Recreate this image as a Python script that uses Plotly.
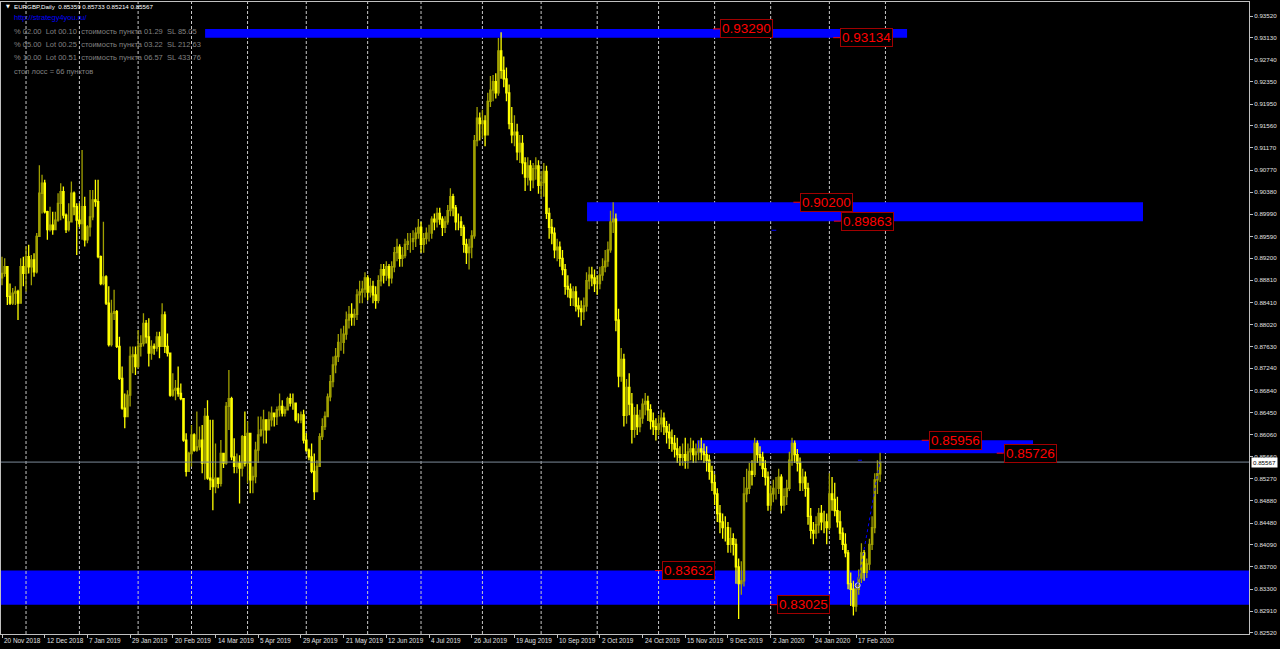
import plotly.graph_objects as go

# EURGBP daily bars, 20 Nov 2018 .. 28 Feb 2020, prices in pips (1e-4)
first_open = 8885
close_pips = [
    8893, 8905, 8852, 8840, 8858, 8861, 8840, 8905, 8893, 8923,
    8905, 8917, 8896, 8959, 9036, 9054, 9003, 8971, 8979, 8971,
    8988, 9018, 9039, 8997, 8971, 8985, 9036, 9012, 8988, 8982,
    9012, 8953, 8976, 8994, 9024, 9021, 8923, 8875, 8887, 8840,
    8766, 8822, 8825, 8763, 8706, 8653, 8638, 8676, 8745, 8748,
    8727, 8763, 8768, 8804, 8780, 8751, 8763, 8760, 8780, 8763,
    8819, 8763, 8751, 8676, 8685, 8688, 8679, 8670, 8596, 8540,
    8572, 8605, 8578, 8584, 8596, 8555, 8638, 8528, 8525, 8513,
    8528, 8519, 8572, 8555, 8656, 8670, 8566, 8549, 8555, 8546,
    8602, 8555, 8608, 8525, 8531, 8578, 8605, 8614, 8632, 8614,
    8632, 8644, 8638, 8650, 8656, 8644, 8650, 8670, 8662, 8662,
    8632, 8632, 8641, 8596, 8578, 8566, 8540, 8504, 8549, 8602,
    8620, 8638, 8673, 8700, 8730, 8745, 8770, 8770, 8785, 8810,
    8820, 8815, 8820, 8855, 8860, 8865, 8885, 8860, 8870, 8855,
    8845, 8880, 8900, 8890, 8905, 8885, 8905, 8930, 8940, 8920,
    8925, 8945, 8950, 8950, 8955, 8965, 8975, 8945, 8955, 8965,
    8965, 8990, 8985, 9000, 8990, 8975, 8985, 9005, 9030, 9010,
    8985, 8985, 8975, 8945, 8930, 8940, 8960, 9130, 9170, 9160,
    9165, 9140, 9200, 9220, 9235, 9215, 9290, 9255, 9240, 9215,
    9160, 9140, 9145, 9110, 9125, 9090, 9065, 9085, 9060, 9080,
    9085, 9050, 9055, 9075, 9000, 8975, 8965, 8935, 8940, 8920,
    8900, 8870, 8865, 8850, 8860, 8835, 8830, 8825, 8835, 8880,
    8890, 8885, 8875, 8875, 8890, 8905, 8915, 8935, 8985, 8990,
    8810, 8710, 8740, 8640, 8690, 8660, 8615, 8640, 8620, 8635,
    8660, 8665, 8650, 8630, 8620, 8615, 8625, 8635, 8620, 8610,
    8600, 8590, 8580, 8570, 8565, 8570, 8560, 8575, 8580, 8570,
    8575, 8580, 8575, 8570, 8560, 8540, 8520, 8500, 8465, 8450,
    8440, 8440, 8410, 8420, 8410, 8370, 8340, 8345, 8500, 8510,
    8540, 8535, 8590, 8570, 8565, 8545, 8530, 8480, 8500, 8510,
    8510, 8530, 8480, 8495, 8510, 8560, 8590, 8570, 8555, 8520,
    8530, 8510, 8460, 8435, 8430, 8445, 8465, 8450, 8450, 8440,
    8500, 8490, 8470, 8450, 8430, 8410, 8395, 8340, 8330, 8300,
    8330, 8350, 8395, 8360, 8375, 8410, 8440, 8525, 8535.9, 8556.7,
]
high_pips = [
    8923, 8920, 8905, 8875, 8867, 8870, 8864, 8920, 8923, 8941,
    8944, 8926, 8929, 8965, 9086, 9069, 9060, 9005, 9012, 9003,
    9003, 9036, 9054, 9048, 9000, 9018, 9057, 9039, 9018, 9018,
    9113, 9030, 8979, 9042, 9042, 9060, 9060, 8925, 8985, 8890,
    8870, 8846, 8864, 8828, 8780, 8727, 8679, 8685, 8763, 8763,
    8763, 8792, 8783, 8822, 8810, 8813, 8774, 8768, 8789, 8789,
    8840, 8825, 8786, 8751, 8715, 8703, 8727, 8697, 8670, 8608,
    8575, 8623, 8608, 8647, 8620, 8623, 8653, 8667, 8632, 8632,
    8590, 8528, 8596, 8572, 8664, 8721, 8673, 8599, 8572, 8569,
    8605, 8647, 8629, 8608, 8549, 8593, 8638, 8638, 8650, 8632,
    8647, 8656, 8644, 8656, 8679, 8667, 8656, 8673, 8679, 8679,
    8662, 8644, 8647, 8650, 8608, 8581, 8590, 8572, 8560, 8608,
    8635, 8647, 8679, 8712, 8745, 8760, 8785, 8795, 8800, 8825,
    8835, 8840, 8830, 8865, 8880, 8880, 8895, 8890, 8885, 8880,
    8870, 8890, 8910, 8910, 8915, 8910, 8915, 8940, 8955, 8945,
    8940, 8955, 8965, 8965, 8970, 8975, 8990, 8985, 8965, 8975,
    8980, 8995, 9000, 9010, 9010, 8995, 8995, 9015, 9045, 9035,
    9015, 9000, 8995, 8980, 8955, 8955, 8970, 9140, 9190, 9180,
    9185, 9175, 9215, 9245, 9247, 9250, 9313, 9323, 9280, 9260,
    9230, 9190, 9175, 9160, 9140, 9140, 9100, 9100, 9095, 9090,
    9100, 9095, 9075, 9090, 9085, 9010, 8990, 8975, 8955, 8950,
    8935, 8910, 8890, 8875, 8870, 8870, 8850, 8845, 8850, 8895,
    8905, 8905, 8900, 8890, 8905, 8920, 8935, 8950, 9005, 9020,
    9000, 8830, 8760, 8750, 8705, 8715, 8680, 8655, 8660, 8650,
    8670, 8680, 8675, 8660, 8645, 8635, 8640, 8650, 8645, 8630,
    8625, 8615, 8605, 8600, 8585, 8590, 8600, 8590, 8600, 8595,
    8590, 8595, 8600, 8590, 8585, 8570, 8550, 8535, 8510, 8480,
    8465, 8460, 8450, 8440, 8430, 8420, 8385, 8380, 8530, 8545,
    8555, 8560, 8600, 8595, 8585, 8575, 8560, 8540, 8515, 8525,
    8530, 8545, 8535, 8510, 8525, 8575, 8600, 8595, 8580, 8565,
    8545, 8540, 8520, 8475, 8450, 8460, 8475, 8480, 8470, 8465,
    8537, 8530, 8520, 8495, 8470, 8440, 8430, 8400, 8360, 8345,
    8340, 8365, 8412, 8400, 8385, 8420, 8460, 8537, 8560, 8573.3,
]
low_pips = [
    8872, 8887, 8837, 8837, 8837, 8837, 8810, 8855, 8870, 8861,
    8893, 8872, 8887, 8893, 8962, 9000, 9000, 8953, 8968, 8962,
    8982, 8985, 8988, 8991, 8965, 8968, 8985, 8997, 8926, 8976,
    8953, 8941, 8947, 8959, 8988, 9012, 8920, 8872, 8872, 8837,
    8763, 8763, 8810, 8760, 8703, 8650, 8617, 8650, 8656, 8715,
    8712, 8724, 8745, 8763, 8768, 8727, 8739, 8748, 8754, 8742,
    8763, 8751, 8745, 8673, 8673, 8667, 8673, 8667, 8593, 8531,
    8540, 8549, 8575, 8575, 8578, 8537, 8525, 8525, 8507, 8471,
    8501, 8510, 8513, 8546, 8552, 8614, 8560, 8537, 8537, 8483,
    8531, 8549, 8519, 8501, 8501, 8519, 8555, 8602, 8590, 8590,
    8614, 8620, 8620, 8623, 8638, 8638, 8638, 8650, 8656, 8650,
    8629, 8626, 8626, 8590, 8575, 8560, 8537, 8489, 8537, 8555,
    8596, 8614, 8638, 8665, 8690, 8715, 8735, 8755, 8750, 8775,
    8795, 8800, 8800, 8810, 8840, 8840, 8850, 8845, 8850, 8840,
    8830, 8840, 8870, 8875, 8880, 8870, 8875, 8895, 8915, 8905,
    8905, 8920, 8935, 8930, 8935, 8940, 8955, 8930, 8930, 8945,
    8950, 8955, 8970, 8975, 8980, 8960, 8965, 8980, 8995, 8995,
    8970, 8970, 8960, 8930, 8910, 8900, 8920, 8955, 9120, 9130,
    9135, 9120, 9140, 9190, 9200, 9205, 9210, 9240, 9225, 9200,
    9150, 9125, 9120, 9095, 9090, 9070, 9040, 9050, 9040, 9045,
    9060, 9035, 9030, 9030, 8990, 8955, 8945, 8920, 8915, 8905,
    8890, 8855, 8850, 8835, 8835, 8825, 8815, 8800, 8810, 8825,
    8865, 8870, 8860, 8855, 8865, 8880, 8895, 8905, 8930, 8965,
    8790, 8690, 8700, 8620, 8625, 8640, 8590, 8600, 8605, 8610,
    8625, 8640, 8630, 8615, 8605, 8595, 8605, 8610, 8605, 8590,
    8580, 8575, 8565, 8555, 8550, 8550, 8545, 8545, 8560, 8555,
    8555, 8560, 8560, 8555, 8540, 8525, 8505, 8480, 8450, 8430,
    8420, 8415, 8395, 8395, 8390, 8340, 8277, 8320, 8335, 8485,
    8500, 8515, 8530, 8555, 8550, 8530, 8515, 8470, 8470, 8485,
    8490, 8500, 8465, 8470, 8480, 8505, 8550, 8555, 8540, 8505,
    8505, 8495, 8445, 8420, 8410, 8420, 8430, 8435, 8430, 8410,
    8435, 8470, 8460, 8440, 8418, 8400, 8387, 8330, 8300, 8283,
    8290, 8320, 8341, 8345, 8350, 8364, 8400, 8430, 8500, 8521.4,
]

# bottom axis labels, one every 16 bars
date_labels = [
    "20 Nov 2018", "12 Dec 2018", "7 Jan 2019", "29 Jan 2019", "20 Feb 2019",
    "14 Mar 2019", "5 Apr 2019", "29 Apr 2019", "21 May 2019", "12 Jun 2019",
    "4 Jul 2019", "26 Jul 2019", "19 Aug 2019", "10 Sep 2019", "2 Oct 2019",
    "24 Oct 2019", "15 Nov 2019", "9 Dec 2019", "2 Jan 2020", "24 Jan 2020",
    "17 Feb 2020",
]
# first bar of every month (vertical grid)
month_start_bars = [9, 29, 51, 71, 92, 114, 137, 157, 180, 202, 223, 246, 267, 288, 310, 331]

price_ticks = [
    0.93520, 0.93130, 0.92740, 0.92350, 0.91950, 0.91560, 0.91170, 0.90770,
    0.90380, 0.89990, 0.89590, 0.89200, 0.88810, 0.88410, 0.88020, 0.87630,
    0.87240, 0.86840, 0.86450, 0.86060, 0.85660, 0.85270, 0.84880, 0.84480,
    0.84090, 0.83700, 0.83300, 0.82910, 0.82520,
]

# blue zones: low, high, first bar, last bar (None = whole width)
zone_low = [0.93134, 0.89863, 0.85726, 0.83025]
zone_high = [0.93290, 0.90200, 0.85956, 0.83632]
zone_from = [76.1, 219.2, 260.4, None]
zone_to = [339.1, 427.5, 386.3, None]

# red price labels and the bar they hang from
label_prices = [0.93290, 0.93134, 0.90200, 0.89863, 0.85956, 0.85726, 0.83632, 0.83025]
label_bars = [266.4, 311.4, 296.5, 311.7, 344.6, 372.7, 244.7, 287.7]

bid = 0.85567
header = "EURGBP,Daily  0.85359 0.85733 0.85214 0.85567"
info_lines = [
    "% 02.00  Lot 00.10  стоимость пункта 01.29  SL 85.05",
    "% 05.00  Lot 00.25  стоимость пункта 03.22  SL 212.63",
    "% 10.00  Lot 00.51  стоимость пункта 06.57  SL 433.76",
    "стоп лосс = 66 пунктов",
]

# trend line and marker drawn near the last bars
trend_bars = [320.6, 329.0]
trend_prices = [0.8337, 0.8560]

# plot area in pixels
PL, PR, PT, PB = 1, 1249, 2, 634


def paper_x(p):
    return (p - PL) / (PR - PL)


def paper_y(p):
    return (PB - p) / (PB - PT)


n = len(close_pips)
bars = list(range(n))
close = [c / 10000 for c in close_pips]
opens = [first_open / 10000] + close[:-1]
high = [max(h / 10000, o, c) for h, o, c in zip(high_pips, opens, close)]
low = [min(l / 10000, o, c) for l, o, c in zip(low_pips, opens, close)]

fig = go.Figure()

fig.add_trace(go.Candlestick(
    x=bars, open=opens, high=high, low=low, close=close,
    increasing=dict(line=dict(color="#a0a000", width=1.3), fillcolor="#a0a000"),
    decreasing=dict(line=dict(color="#ffff00", width=1.3), fillcolor="#ffff00"),
    whiskerwidth=0,
    hoverinfo="skip",
))

fig.add_trace(go.Scatter(
    x=trend_bars[:1], y=trend_prices[:1], mode="markers",
    marker=dict(symbol="circle-open", size=5, color="#d0d0ff", line=dict(width=1)),
    hoverinfo="skip",
))

shapes = []
for lo, hi, x0, x1 in zip(zone_low, zone_high, zone_from, zone_to):
    if x0 is None:
        shapes.append(dict(type="rect", xref="paper", yref="y", x0=0, x1=1, y0=lo, y1=hi,
                           fillcolor="#0000ff", line=dict(width=0), layer="below"))
    else:
        shapes.append(dict(type="rect", xref="x", yref="y", x0=x0, x1=x1, y0=lo, y1=hi,
                           fillcolor="#0000ff", line=dict(width=0), layer="below"))

for b in month_start_bars:
    shapes.append(dict(type="line", xref="x", yref="paper", x0=b, x1=b, y0=0, y1=1,
                       line=dict(color="#c8c8c8", width=1, dash="3px,2px"), layer="below"))

shapes.append(dict(type="line", xref="paper", yref="y", x0=0, x1=1, y0=bid, y1=bid,
                   line=dict(color="#7d8a9a", width=1), layer="above"))

for p, b in zip(label_prices, label_bars):
    shapes.append(dict(type="line", xref="x", yref="y", x0=b, x1=b + 2.6, y0=p, y1=p,
                       line=dict(color="#ff0000", width=1)))

shapes.append(dict(type="line", xref="x", yref="y", x0=trend_bars[0], x1=trend_bars[1],
                   y0=trend_prices[0], y1=trend_prices[1],
                   line=dict(color="#0000ff", width=1, dash="dot")))
shapes.append(dict(type="line", xref="x", yref="y", x0=288.3, x1=290.1, y0=0.8970, y1=0.8970,
                   line=dict(color="#0000ff", width=1)))
shapes.append(dict(type="line", xref="x", yref="y", x0=320.7, x1=322.2, y0=0.8560, y1=0.8560,
                   line=dict(color="#0000ff", width=1)))

annotations = []
for p, b in zip(label_prices, label_bars):
    annotations.append(dict(
        x=b + 2.6, y=p, xref="x", yref="y", xanchor="left", yanchor="middle",
        text=f"{p:.5f}", showarrow=False,
        font=dict(family="Liberation Sans", size=13.5, color="#ff0000"),
        bgcolor="#000000", bordercolor="#a00000", borderwidth=1, borderpad=1,
    ))

for k, lab in enumerate(date_labels):
    annotations.append(dict(
        x=k * 16, y=0, xref="x", yref="paper", xanchor="left", yanchor="top",
        yshift=-1, text=lab, showarrow=False,
        font=dict(family="Liberation Sans", size=6.4, color="#e0e0e0"),
    ))

annotations.append(dict(
    x=1, y=bid, xref="paper", yref="y", xanchor="left", yanchor="middle", xshift=2,
    text=f"{bid:.5f}", showarrow=False, bgcolor="#ffffff", borderpad=1,
    font=dict(family="Liberation Sans", size=6.2, color="#000000"),
))

annotations.append(dict(
    x=paper_x(3.5), y=paper_y(6), xref="paper", yref="paper", xanchor="left", yanchor="middle",
    text="▼", showarrow=False, font=dict(family="DejaVu Sans", size=5, color="#ffffff"),
))
annotations.append(dict(
    x=paper_x(12), y=paper_y(6), xref="paper", yref="paper", xanchor="left", yanchor="middle",
    text=header, showarrow=False, font=dict(family="Liberation Sans", size=6.2, color="#ffffff"),
))
annotations.append(dict(
    x=paper_x(12), y=paper_y(17.5), xref="paper", yref="paper", xanchor="left", yanchor="middle",
    text="http://strategy4you.ru/", showarrow=False,
    font=dict(family="Liberation Sans", size=7.5, color="#0000ff"),
))
for k, line in enumerate(info_lines):
    annotations.append(dict(
        x=paper_x(12), y=paper_y(31 + 13.4 * k), xref="paper", yref="paper",
        xanchor="left", yanchor="middle", text=line, showarrow=False,
        font=dict(family="Liberation Sans", size=7.5, color="#808080"),
    ))

x_lo = -(2 - PL) / 2.669
fig.update_layout(
    width=1280, height=649,
    margin=dict(l=PL, r=1280 - PR, t=PT, b=649 - PB),
    paper_bgcolor="#000000", plot_bgcolor="#000000",
    showlegend=False, hovermode=False,
    shapes=shapes, annotations=annotations,
    xaxis=dict(
        range=[x_lo, x_lo + (PR - PL) / 2.669],
        rangeslider=dict(visible=False),
        tickvals=[k * 16 for k in range(len(date_labels))],
        showticklabels=False, ticks="outside", ticklen=3, tickcolor="#c0c0c0",
        showgrid=False, zeroline=False,
        showline=True, linecolor="#c0c0c0", linewidth=1, mirror=True,
    ),
    yaxis=dict(
        side="right",
        range=[0.82502, 0.93770],
        tickvals=price_ticks, ticktext=[f"{t:.5f}" for t in price_ticks],
        ticks="outside", ticklen=3, tickcolor="#c0c0c0",
        tickfont=dict(family="Liberation Sans", size=6.2, color="#e0e0e0"),
        showgrid=False, zeroline=False,
        showline=True, linecolor="#c0c0c0", linewidth=1, mirror=True,
    ),
)

# the page body has a default 8px margin; drop it so the chart sits at the corner
fig.write_html(
    "out.html",
    config={"displayModeBar": False},
    post_script="document.body.style.margin='0';document.body.style.overflow='hidden';",
)
